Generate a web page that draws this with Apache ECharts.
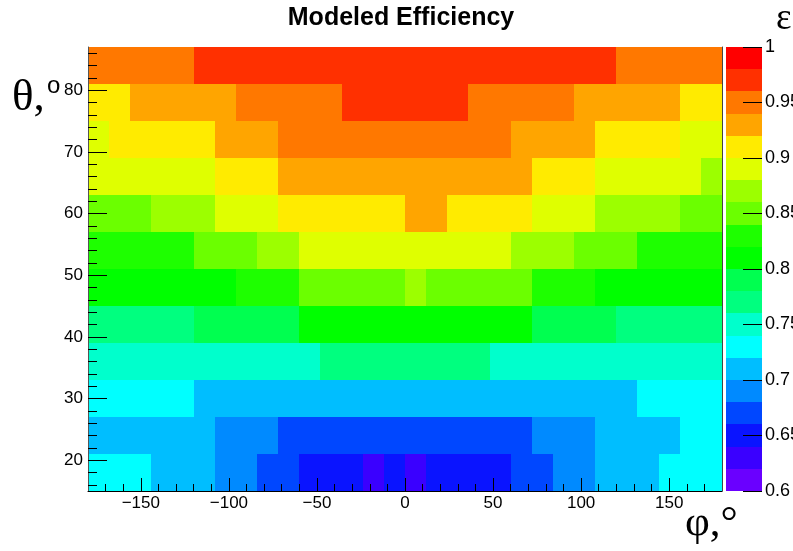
<!DOCTYPE html>
<html>
<head>
<meta charset="utf-8">
<title>Modeled Efficiency</title>
<script src="https://cdn.jsdelivr.net/npm/echarts@6/dist/echarts.min.js"></script>
<style>
  html, body { margin: 0; padding: 0; background: #ffffff; }
  #chart { width: 793px; height: 551px; }
</style>
</head>
<body>
<div id="chart"></div>
<script>
// Bin edges in degrees
const phiEdges = [-180, -168, -156, -144, -132, -120, -108, -96, -84, -72, -60, -48, -36, -24, -12,
                  0, 12, 24, 36, 48, 60, 72, 84, 96, 108, 120, 132, 144, 156, 168, 180];
const thetaEdges = [15, 21, 27, 33, 39, 45, 51, 57, 63, 69, 75, 81, 87];

// Efficiency for each θ bin (named by its lower edge), φ bins from -180 to 180
const effTheta15 = [0.73, 0.73, 0.73, 0.71, 0.71, 0.71, 0.69, 0.69, 0.67, 0.67,
                    0.65, 0.65, 0.65, 0.63, 0.65, 0.63, 0.65, 0.65, 0.65, 0.65,
                    0.67, 0.67, 0.69, 0.69, 0.71, 0.71, 0.71, 0.73, 0.73, 0.73];
const effTheta21 = [0.71, 0.71, 0.71, 0.71, 0.71, 0.71, 0.69, 0.69, 0.69, 0.67,
                    0.67, 0.67, 0.67, 0.67, 0.67, 0.67, 0.67, 0.67, 0.67, 0.67,
                    0.67, 0.69, 0.69, 0.69, 0.71, 0.71, 0.71, 0.71, 0.73, 0.73];
const effTheta27 = [0.73, 0.73, 0.73, 0.73, 0.73, 0.71, 0.71, 0.71, 0.71, 0.71,
                    0.71, 0.71, 0.71, 0.71, 0.71, 0.71, 0.71, 0.71, 0.71, 0.71,
                    0.71, 0.71, 0.71, 0.71, 0.71, 0.71, 0.73, 0.73, 0.73, 0.73];
const effTheta33 = [0.75, 0.75, 0.75, 0.75, 0.75, 0.75, 0.75, 0.75, 0.75, 0.75,
                    0.75, 0.77, 0.77, 0.77, 0.77, 0.77, 0.77, 0.77, 0.77, 0.75,
                    0.75, 0.75, 0.75, 0.75, 0.75, 0.75, 0.75, 0.75, 0.75, 0.75];
const effTheta39 = [0.77, 0.77, 0.77, 0.77, 0.77, 0.79, 0.79, 0.79, 0.79, 0.79,
                    0.81, 0.81, 0.81, 0.81, 0.81, 0.81, 0.81, 0.81, 0.81, 0.81,
                    0.81, 0.79, 0.79, 0.79, 0.79, 0.77, 0.77, 0.77, 0.77, 0.77];
const effTheta45 = [0.81, 0.81, 0.81, 0.81, 0.81, 0.81, 0.81, 0.83, 0.83, 0.83,
                    0.85, 0.85, 0.85, 0.85, 0.85, 0.87, 0.85, 0.85, 0.85, 0.85,
                    0.85, 0.83, 0.83, 0.83, 0.81, 0.81, 0.81, 0.81, 0.81, 0.81];
const effTheta51 = [0.83, 0.83, 0.83, 0.83, 0.83, 0.85, 0.85, 0.85, 0.87, 0.87,
                    0.89, 0.89, 0.89, 0.89, 0.89, 0.89, 0.89, 0.89, 0.89, 0.89,
                    0.87, 0.87, 0.87, 0.85, 0.85, 0.85, 0.83, 0.83, 0.83, 0.83];
const effTheta57 = [0.85, 0.85, 0.85, 0.87, 0.87, 0.87, 0.89, 0.89, 0.89, 0.91,
                    0.91, 0.91, 0.91, 0.91, 0.91, 0.93, 0.93, 0.91, 0.91, 0.91,
                    0.91, 0.89, 0.89, 0.89, 0.87, 0.87, 0.87, 0.87, 0.85, 0.85];
const effTheta63 = [0.89, 0.89, 0.89, 0.89, 0.89, 0.89, 0.91, 0.91, 0.91, 0.93,
                    0.93, 0.93, 0.93, 0.93, 0.93, 0.93, 0.93, 0.93, 0.93, 0.93,
                    0.93, 0.91, 0.91, 0.91, 0.89, 0.89, 0.89, 0.89, 0.89, 0.87];
const effTheta69 = [0.89, 0.91, 0.91, 0.91, 0.91, 0.91, 0.93, 0.93, 0.93, 0.95,
                    0.95, 0.95, 0.95, 0.95, 0.95, 0.95, 0.95, 0.95, 0.95, 0.95,
                    0.93, 0.93, 0.93, 0.93, 0.91, 0.91, 0.91, 0.91, 0.89, 0.89];
const effTheta75 = [0.91, 0.91, 0.93, 0.93, 0.93, 0.93, 0.93, 0.95, 0.95, 0.95,
                    0.95, 0.95, 0.97, 0.97, 0.97, 0.97, 0.97, 0.97, 0.95, 0.95,
                    0.95, 0.95, 0.95, 0.93, 0.93, 0.93, 0.93, 0.93, 0.91, 0.91];
const effTheta81 = [0.95, 0.95, 0.95, 0.95, 0.95, 0.97, 0.97, 0.97, 0.97, 0.97,
                    0.97, 0.97, 0.97, 0.97, 0.97, 0.97, 0.97, 0.97, 0.97, 0.97,
                    0.97, 0.97, 0.97, 0.97, 0.97, 0.95, 0.95, 0.95, 0.95, 0.95];

const effRows = [effTheta15, effTheta21, effTheta27, effTheta33, effTheta39, effTheta45,
                 effTheta51, effTheta57, effTheta63, effTheta69, effTheta75, effTheta81];

// Axis ticks
const phiTicks = [-150, -100, -50, 0, 50, 100, 150];
const phiMinorTicks = [-170, -160, -150, -140, -130, -120, -110, -100, -90, -80, -70, -60, -50, -40,
                       -30, -20, -10, 0, 10, 20, 30, 40, 50, 60, 70, 80, 90, 100, 110, 120, 130,
                       140, 150, 160, 170];
const thetaTicks = [20, 30, 40, 50, 60, 70, 80];
const thetaMinorTicks = [16, 18, 20, 22, 24, 26, 28, 30, 32, 34, 36, 38, 40, 42, 44, 46, 48, 50,
                         52, 54, 56, 58, 60, 62, 64, 66, 68, 70, 72, 74, 76, 78, 80, 82, 84, 86];
const effTicks = [0.6, 0.65, 0.7, 0.75, 0.8, 0.85, 0.9, 0.95, 1];

// Colour levels of the palette (20 contours from 0.6 to 1.0)
const levelEdges = [0.6, 0.62, 0.64, 0.66, 0.68, 0.7, 0.72, 0.74, 0.76, 0.78, 0.8,
                    0.82, 0.84, 0.86, 0.88, 0.9, 0.92, 0.94, 0.96, 0.98, 1.0];
const palette = ['#6a00ff', '#3a00ff', '#0a14ff', '#0047ff', '#008aff', '#00beff', '#00ffff',
                 '#00ffcc', '#00ff7f', '#00ff50', '#00ff00', '#1eff00', '#6bff00', '#9cff00',
                 '#dfff00', '#ffeb00', '#ffa500', '#ff7800', '#ff3000', '#ff0000'];

function colorFor(v) {
  for (let i = 0; i < palette.length; i++) {
    if (v < levelEdges[i + 1]) return palette[i];
  }
  return palette[palette.length - 1];
}

// Cells: [phiLow, phiHigh, thetaLow, thetaHigh, efficiency]
const cells = [];
effRows.forEach((row, r) => {
  row.forEach((v, c) => {
    cells.push([phiEdges[c], phiEdges[c + 1], thetaEdges[r], thetaEdges[r + 1], v]);
  });
});

// Colour bar blocks: [0, 1, low, high, levelIndex]
const bars = [];
for (let i = 0; i < palette.length; i++) {
  bars.push([0, 1, levelEdges[i], levelEdges[i + 1], i]);
}

function rectItem(api, fill) {
  const a = api.coord([api.value(0), api.value(3)]);
  const b = api.coord([api.value(1), api.value(2)]);
  const x0 = Math.round(a[0]), y0 = Math.round(a[1]);
  const x1 = Math.round(b[0]), y1 = Math.round(b[1]);
  return { type: 'rect', shape: { x: x0, y: y0, width: x1 - x0, height: y1 - y0 }, style: { fill: fill } };
}

const SANS = 'Liberation Sans, Arial, Helvetica, sans-serif';
const SERIF = 'Liberation Serif, Times New Roman, serif';
const minus = v => String(v).replace('-', '\u2212');
const AXIS_Z = 10;

const chart = echarts.init(document.getElementById('chart'), null, { renderer: 'canvas' });
chart.setOption({
  animation: false,
  backgroundColor: '#ffffff',
  title: [
    { text: 'Modeled Efficiency', left: 401, top: 6, textAlign: 'center', padding: 0,
      textStyle: { fontFamily: SANS, fontSize: 25, fontWeight: 'bold', color: '#000' } },
    { text: 'θ,', left: 12, top: 76, padding: 0,
      textStyle: { fontFamily: SERIF, fontSize: 45, fontWeight: 'normal', color: '#000' } },
    { text: 'o', left: 47, top: 74, padding: 0,
      textStyle: { fontFamily: SANS, fontSize: 24, fontWeight: 'normal', color: '#000' } },
    { text: 'φ,°', left: 685, top: 502, padding: 0,
      textStyle: { fontFamily: SERIF, fontSize: 43, fontWeight: 'normal', color: '#000' } },
    { text: 'ε', left: 776, top: 1, padding: 0,
      textStyle: { fontFamily: SERIF, fontSize: 37, fontWeight: 'normal', color: '#000' } }
  ],
  grid: [
    { left: 88, top: 47, width: 634, height: 444, containLabel: false, outerBoundsMode: 'none' },
    { left: 726, top: 47, width: 36, height: 444, containLabel: false, outerBoundsMode: 'none' }
  ],
  xAxis: [
    { gridIndex: 0, type: 'value', min: -180, max: 180, position: 'bottom', z: AXIS_Z,
      axisLine: { show: true, onZero: false, lineStyle: { color: '#000', width: 1 } },
      axisTick: { show: true, inside: true, length: 13, customValues: phiTicks, lineStyle: { color: '#000' } },
      axisLabel: { show: true, customValues: phiTicks, formatter: minus, margin: 4,
                   fontFamily: SANS, fontSize: 17, color: '#000' },
      splitLine: { show: false } },
    { gridIndex: 0, type: 'value', min: -180, max: 180, position: 'bottom', z: AXIS_Z,
      axisLine: { show: false, onZero: false },
      axisTick: { show: true, inside: true, length: 7, customValues: phiMinorTicks, lineStyle: { color: '#000' } },
      axisLabel: { show: false }, splitLine: { show: false } },
    { gridIndex: 1, type: 'value', min: 0, max: 1, show: false,
      axisLine: { onZero: false } }
  ],
  yAxis: [
    { gridIndex: 0, type: 'value', min: 15, max: 87, position: 'left', z: AXIS_Z,
      axisLine: { show: true, onZero: false, lineStyle: { color: '#555', width: 1 } },
      axisTick: { show: true, inside: true, length: 19, customValues: thetaTicks, lineStyle: { color: '#000' } },
      axisLabel: { show: true, customValues: thetaTicks, margin: 5,
                   fontFamily: SANS, fontSize: 17, color: '#000' },
      splitLine: { show: false } },
    { gridIndex: 0, type: 'value', min: 15, max: 87, position: 'left', z: AXIS_Z,
      axisLine: { show: false, onZero: false },
      axisTick: { show: true, inside: true, length: 9, customValues: thetaMinorTicks, lineStyle: { color: '#000' } },
      axisLabel: { show: false }, splitLine: { show: false } },
    { gridIndex: 0, type: 'value', min: 15, max: 87, position: 'right', z: AXIS_Z,
      axisLine: { show: true, onZero: false, lineStyle: { color: '#444', width: 1 } },
      axisTick: { show: false }, axisLabel: { show: false }, splitLine: { show: false } },
    { gridIndex: 1, type: 'value', min: 0.6, max: 1, position: 'right', z: AXIS_Z,
      axisLine: { show: false, onZero: false },
      axisTick: { show: true, inside: true, length: 19, customValues: effTicks, lineStyle: { color: '#000' } },
      axisLabel: { show: true, customValues: effTicks, margin: 3,
                   fontFamily: SANS, fontSize: 18, color: '#000' },
      splitLine: { show: false } }
  ],
  series: [
    { type: 'custom', name: 'efficiency', xAxisIndex: 0, yAxisIndex: 0, data: cells,
      encode: { x: [0, 1], y: [2, 3] }, z: 1,
      renderItem: (params, api) => rectItem(api, colorFor(api.value(4))) },
    { type: 'custom', name: 'palette', xAxisIndex: 2, yAxisIndex: 3, data: bars,
      encode: { x: [0, 1], y: [2, 3] }, z: 1,
      renderItem: (params, api) => rectItem(api, palette[api.value(4)]) }
  ]
});
</script>
</body>
</html>
